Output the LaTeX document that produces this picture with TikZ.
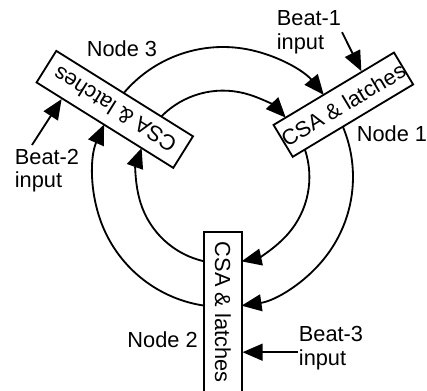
\documentclass[tikz,border=0pt]{standalone}
\usepackage{fontspec}
\setmainfont{Liberation Sans}
\usetikzlibrary{arrows.meta, calc}

\begin{document}
\begin{tikzpicture}[line width=1.3pt,
  font=\fontsize{15.5}{16.5}\selectfont,
  csabox/.style={draw, rectangle, inner sep=0pt, minimum height=0.93cm},
  beat/.style={align=left, inner sep=0pt, anchor=west},
  tip/.style={-{Triangle[length=5mm,width=4.2mm]}}]
\useasboundingbox (-5.575,-5.325) rectangle (5.1,4.425);
\clip (-5.575,-5.325) rectangle (5.1,4.425);
\coordinate (c) at (0,0);
% the three nodes on the ring
\node[csabox, minimum width=3.45cm, rotate=31] (n1) at (31:3.51) {CSA \& latches};
\node[csabox, minimum width=4cm, rotate=-90] (n2) at (270:3.375) {CSA \& latches};
\node[csabox, minimum width=4.03cm, rotate=148] (n3) at (148:3.19) {CSA \& latches};
\node (l1) at (4.225,1.075) {Node 1};
\node (l2) at (-1.51,-4.075) {Node 2};
\node (l3) at (-2.525,3.2) {Node 3};
% ring, clockwise from node to node
\foreach \r/\d in {2.16/12.4, 3.25/8.2}
  \foreach \a/\b in {148/31, 31/-90, -90/-212}
    \draw[tip] ($(c)+({\a-\d}:\r)$) arc[start angle=\a-\d, end angle=\b+\d, radius=\r];
% beat inputs
\node[beat] (b1) at (1.325,3.62) {Beat-1\\input};
\node[beat] (b2) at (-5.225,0.15) {Beat-2\\input};
\node[beat] (b3) at (1.875,-4.28) {Beat-3\\input};
\coordinate (t1) at ($(n1.north)!0.46!(n1.north east)$);
\coordinate (t2) at ($(n3.north)!0.62!(n3.north east)$);
\coordinate (s2) at (-4.775,0.8);
\draw[tip] (b1.east) -- (t1);
\draw[tip] (s2) -- (t2);
\draw[tip] ([yshift=-0.1cm]b3.west) -- ([yshift=-0.1cm]b3.west -| n2.north);
\end{tikzpicture}
\end{document}
